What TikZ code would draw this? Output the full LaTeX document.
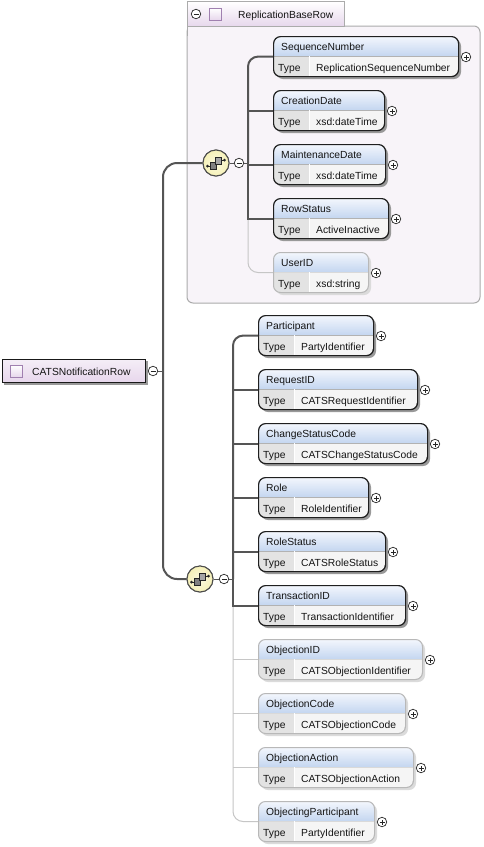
\documentclass[tikz,border=0pt]{standalone}
\usepackage{fontspec}
\setmainfont{Liberation Sans}

\definecolor{hdrtop}{HTML}{F4F7FD}
\definecolor{hdrbot}{HTML}{C4D6F0}
\definecolor{typecell}{HTML}{E3E3E3}
\definecolor{valcell}{HTML}{F5F5F5}
\definecolor{grpfill}{HTML}{F8F4F9}
\definecolor{grpline}{HTML}{ABABAB}
\definecolor{lilac}{HTML}{E7D7EC}
\definecolor{lilacline}{HTML}{A080B0}
\definecolor{connline}{HTML}{555555}
\definecolor{optline}{HTML}{C6C6C6}
\definecolor{seqfill}{HTML}{F6F1B8}
\colorlet{reqshadow}{black!40}
\colorlet{optshadow}{black!14}
\colorlet{reqdiv}{black!30}
\colorlet{optdiv}{black!15}

\tikzset{
  conn/.style={connline, line width=2},
  thinconn/.style={connline, line width=1},
  optconn/.style={optline, line width=1},
  elembox/.style={rounded corners=7, anchor=north west, inner sep=0, minimum height=40},
  reqbox/.style={draw=black!88, line width=1.2},
  optbox/.style={draw=black!28, line width=1},
  lbl/.style={anchor=base west, inner sep=0, text=black!92, font=\fontsize{10.3}{12}\selectfont},
  btn/.style={circle, draw=black!85, fill=white, line width=.7, inner sep=0, minimum size=9.5},
  plusbtn/.style={btn, path picture={
      \draw[black!85, line width=.7]
        ([xshift=-2.5]path picture bounding box.center) -- ([xshift=2.5]path picture bounding box.center)
        ([yshift=-2.5]path picture bounding box.center) -- ([yshift=2.5]path picture bounding box.center);}},
  minusbtn/.style={btn, path picture={
      \draw[black!85, line width=.7]
        ([xshift=-2.5]path picture bounding box.center) -- ([xshift=2.5]path picture bounding box.center);}},
  sqicon/.style={draw=lilacline, line width=.8, top color=white, bottom color=lilac, inner sep=0, minimum size=12},
  seqicon/.style={circle, draw=black!70, line width=1, inner sep=0, minimum size=26,
    inner color=white!55!seqfill, outer color=seqfill},
  rootbox/.style={anchor=north west, draw=black!90, line width=1.2, inner sep=0,
    top color=white!55!lilac, bottom color=lilac, minimum width=143, minimum height=23},
  grptab/.style={anchor=north west, draw=grpline, line width=1, inner sep=0,
    top color=white, bottom color=lilac, minimum width=157, minimum height=25}
}

\newcommand\xsdelement[7]{%
  \fill[#2shadow, rounded corners=7] (#3+3,#4+3) rectangle (#5+3,#4+43);
  \begin{scope}
    \clip[rounded corners=7] (#3,#4) rectangle (#5,#4+40);
    \fill[valcell] (#3,#4) rectangle (#5,#4+40);
    \shade[top color=hdrtop, bottom color=hdrbot] (#3,#4) rectangle (#5,#4+20);
    \fill[typecell] (#3,#4+20) rectangle (#3+36,#4+40);
    \draw[#2div] (#3,#4+20) -- (#5,#4+20);
    \draw[white] (#3+36,#4+20) -- (#3+36,#4+40);
  \end{scope}
  \node[elembox, #2box, minimum width={(#5-#3)*1pt}] (#1) at (#3,#4) {};
  \node[lbl] (#1-name) at (#3+8,#4+14.5) {#6};
  \node[lbl] (#1-kw) at (#3+5,#4+35.5) {Type};
  \node[lbl] (#1-type) at (#3+43,#4+35.5) {#7};
  \node[plusbtn] (#1-x) at (#5+8,#4+21) {};
}

\begin{document}
\begin{tikzpicture}[x=1pt, y=-1pt]

\fill[white] (0,0) rectangle (483,847);
\useasboundingbox (0,0) rectangle (483,847);

\filldraw[fill=grpfill, draw=grpline, line width=1, rounded corners=6]
  (187,26) rectangle (480,303);
\fill[grpfill] (187.5,26.5) rectangle (196,36);
\draw[grpline, line width=1] (187,26) -- (187,36);
\node[grptab] (grp) at (187,1) {};
\node[minusbtn] (grpm) at (196,14) {};
\node[sqicon] (grpicon) at (215,14) {};
\node[lbl] (grptext) at (238,18.5) {ReplicationBaseRow};

\node[seqicon] (seqA) at (216,163) {};
\node[minusbtn] (seqAm) at (239,163) {};
\node[seqicon] (seqB) at (200,579) {};
\node[minusbtn] (seqBm) at (224,579) {};

\node[minusbtn] (rootm) at (153,371) {};

\coordinate (trunk) at (163,371);
\coordinate (jg) at (248,163);
\coordinate (jr) at (233,579);

\xsdelement{seqno}{req}{273}{36}{458}{SequenceNumber}{ReplicationSequenceNumber}
\xsdelement{crdate}{req}{273}{90}{384}{CreationDate}{xsd:dateTime}
\xsdelement{mtdate}{req}{273}{144}{385}{MaintenanceDate}{xsd:dateTime}
\xsdelement{rowst}{req}{273}{198}{388}{RowStatus}{ActiveInactive}
\xsdelement{userid}{opt}{273}{252}{368}{UserID}{xsd:string}

\xsdelement{partic}{req}{258}{315}{373}{Participant}{PartyIdentifier}
\xsdelement{reqid}{req}{258}{369}{417}{RequestID}{CATSRequestIdentifier}
\xsdelement{chgst}{req}{258}{423}{427}{ChangeStatusCode}{CATSChangeStatusCode}
\xsdelement{role}{req}{258}{477}{368}{Role}{RoleIdentifier}
\xsdelement{rolest}{req}{258}{531}{385}{RoleStatus}{CATSRoleStatus}
\xsdelement{txnid}{req}{258}{585}{405}{TransactionID}{TransactionIdentifier}
\xsdelement{objid}{opt}{258}{639}{422}{ObjectionID}{CATSObjectionIdentifier}
\xsdelement{objcode}{opt}{258}{693}{405}{ObjectionCode}{CATSObjectionCode}
\xsdelement{objact}{opt}{258}{747}{413}{ObjectionAction}{CATSObjectionAction}
\xsdelement{objpart}{opt}{258}{801}{374}{ObjectingParticipant}{PartyIdentifier}

\draw[thinconn] (rootm.east) -- (trunk);
\draw[conn, rounded corners=14] (seqA.west) -| (trunk) |- (seqB.west);

\draw[thinconn] (seqA.east) -- (seqAm.west);
\draw[thinconn] (seqAm.east) -- (jg);
\draw[optconn, rounded corners=10] (rowst.west -| jg) |- (userid.west);
\draw[conn, rounded corners=10] (seqno.west) -| (jg);
\draw[conn] (jg) |- (rowst.west);
\foreach \e in {crdate,mtdate}
  \draw[conn] (\e.west -| jg) -- (\e.west);

\draw[thinconn] (seqB.east) -- (seqBm.west);
\draw[thinconn] (seqBm.east) -- (jr);
\draw[optconn, rounded corners=10] (txnid.west -| jr) |- (objpart.west);
\foreach \e in {objid,objcode,objact}
  \draw[optconn] (\e.west -| jr) -- (\e.west);
\draw[conn, rounded corners=10] (partic.west) -| (jr);
\draw[conn] (jr) |- (txnid.west);
\foreach \e in {reqid,chgst,role,rolest}
  \draw[conn] (\e.west -| jr) -- (\e.west);

\node[seqicon] at (seqA) {};
\node[seqicon] at (seqB) {};
\foreach \s in {seqA,seqB} {
  \begin{scope}[shift={(\s.center)}]
    \draw[black!85, line width=1] (-8,3) -- (-5,3) (5,-3) -- (8,-3);
    \fill[black!85] (-8.5,3) circle (1.5) (8.5,-3) circle (1.5);
    \filldraw[fill=black!50, draw=black!85, line width=1] (-5.5,-0.5) rectangle (0.5,6.5);
    \filldraw[fill=black!35, draw=black!85, line width=1] (-1,-6) rectangle (5,1);
  \end{scope}
}

\fill[black!40] (4,361) rectangle (148,385);
\node[rootbox] (root) at (2,359) {};
\node[sqicon] (rooticon) at (16,371) {};
\node[lbl] (roottext) at (32,375) {CATSNotificationRow};

\end{tikzpicture}
\end{document}
